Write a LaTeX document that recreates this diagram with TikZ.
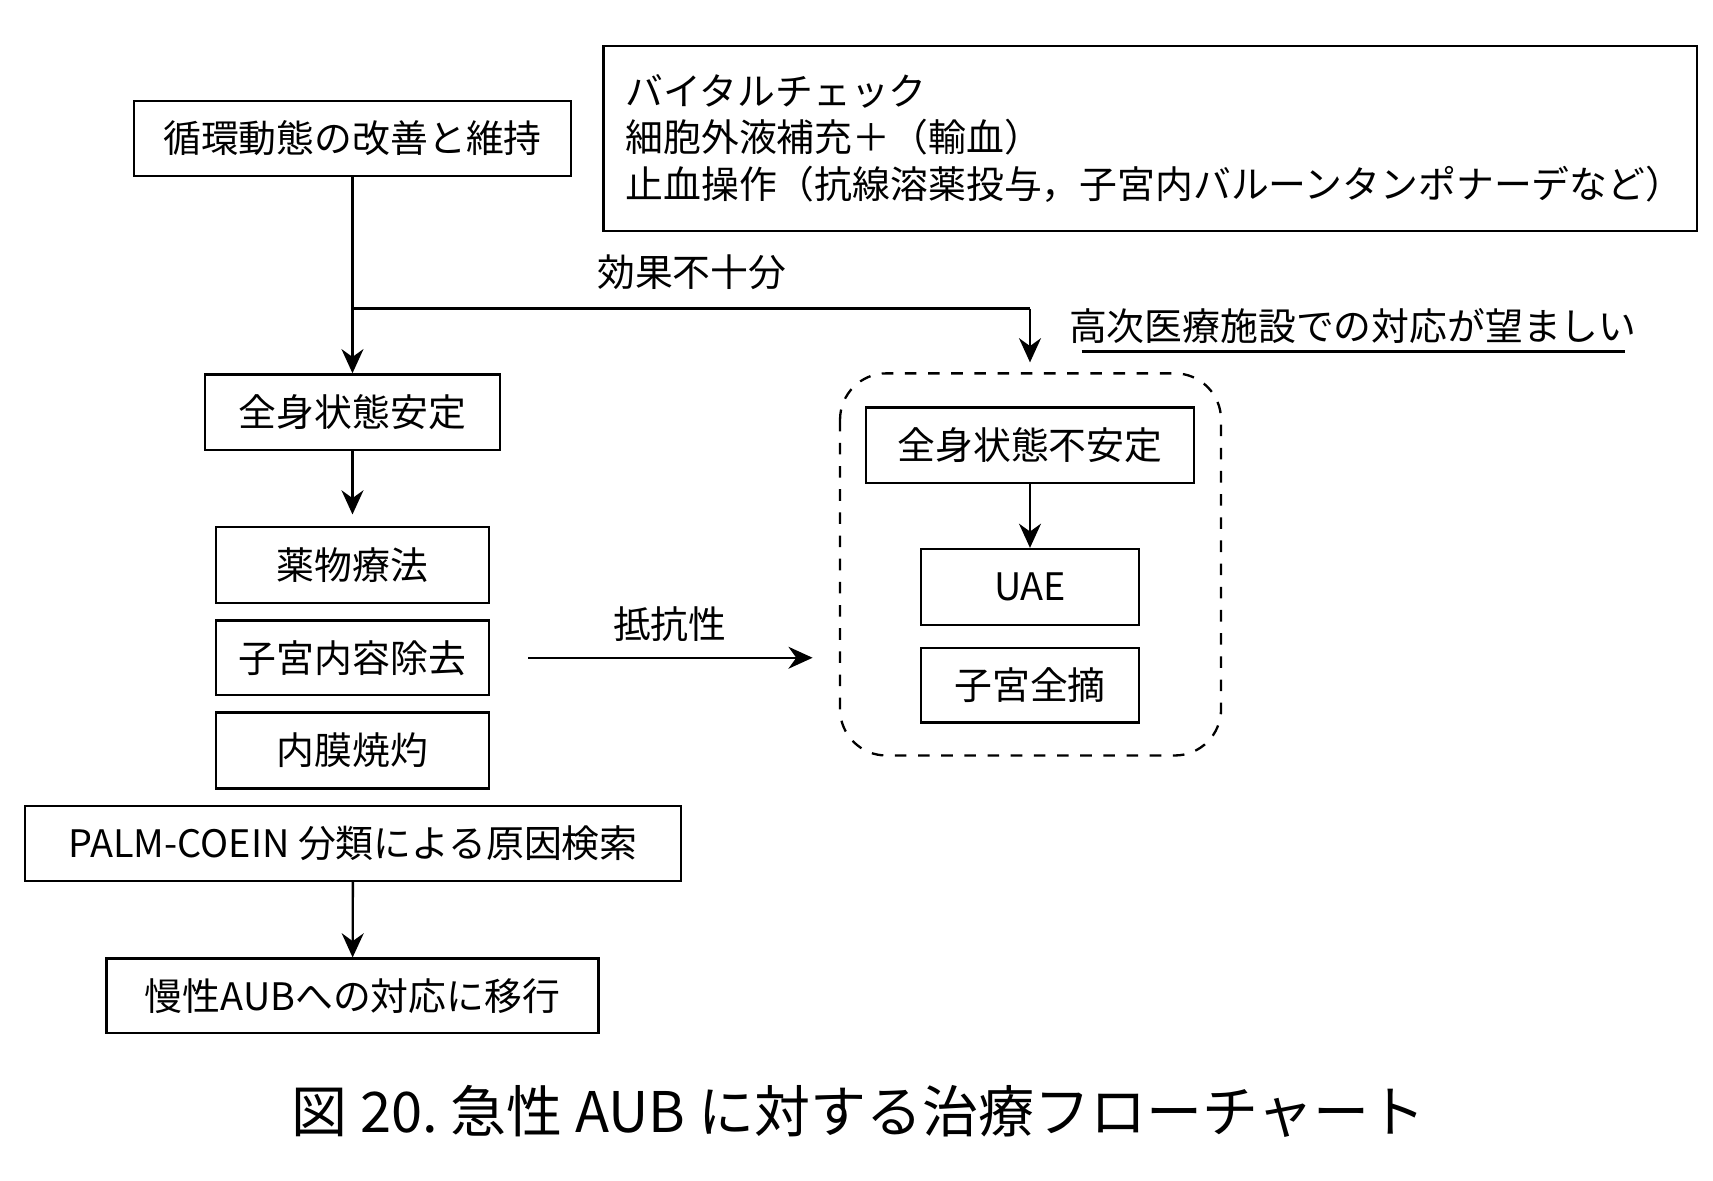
\documentclass[tikz,border=0pt]{standalone}
\usepackage{fontspec}
\setmainfont{Noto Sans CJK JP}
\usetikzlibrary{arrows.meta}
\begin{document}
\begin{tikzpicture}
[x=0.01cm, y=-0.01cm, font=\fontsize{9.8pt}{12pt}\selectfont, line width=0.6pt,
box/.style={rectangle, draw, inner sep=0pt},
arr/.style={-{Stealth[length=2.2mm, width=2mm]}}
]
\useasboundingbox (0,0) rectangle (1560,1075);

\node[box, minimum width=3.98cm, minimum height=0.68cm] (circ) at (321,126) {循環動態の改善と維持};
\node[box, minimum width=9.95cm, minimum height=1.68cm, align=left, text width=9.55cm] (vital) at (1047.5,126)
  {バイタルチェック\\細胞外液補充＋（輸血）\\止血操作（抗線溶薬投与，子宮内バルーンタンポナーデなど）};

\node[box, minimum width=2.68cm, minimum height=0.69cm] (stable) at (321,375.5) {全身状態安定};
\node[box, minimum width=2.48cm, minimum height=0.69cm] (drug) at (321,514.5) {薬物療法};
\node[box, minimum width=2.48cm, minimum height=0.68cm] (evac) at (321,599) {子宮内容除去};
\node[box, minimum width=2.48cm, minimum height=0.69cm] (ablat) at (321,683.5) {内膜焼灼};
\node[box, minimum width=5.97cm, minimum height=0.68cm] (palm) at (321.5,768) {PALM-COEIN 分類による原因検索};
\node[box, minimum width=4.48cm, minimum height=0.68cm] (chronic) at (321,907) {慢性AUBへの対応に移行};

\draw[dashed, rounded corners=12pt] (765,340) rectangle (1112,688);
\node[box, minimum width=2.98cm, minimum height=0.69cm] (unstable) at (938,405.5) {全身状態不安定};
\node[box, minimum width=1.98cm, minimum height=0.69cm] (uae) at (938,534.5) {UAE};
\node[box, minimum width=1.98cm, minimum height=0.68cm] (hyst) at (938,624) {子宮全摘};

\coordinate (split) at (321,281);
\coordinate (corner) at (938,281);
\coordinate (toDash) at (938,330);
\coordinate (resA) at (481,599);
\coordinate (resB) at (740,599);

\draw[arr] (circ) -- (stable);
\draw (split) -- (corner);
\draw[arr] (corner) -- (toDash);
\draw[arr] (stable) -- ++(0,93);
\draw[arr] (unstable) -- (uae);
\draw[arr] (palm) -- (chronic);
\draw[arr] (resA) -- (resB);

\node (insuff) at (630,248) {効果不十分};
\node (resist) at (610,568) {抵抗性};
\node (higher) at (1232,297) {高次医療施設での対応が望ましい};
\draw (985,320) -- (1480,320);

\node[font=\fontsize{14.5pt}{16pt}\selectfont] (caption) at (782,1012) {図 20.\ 急性 AUB に対する治療フローチャート};
\end{tikzpicture}
\end{document}
